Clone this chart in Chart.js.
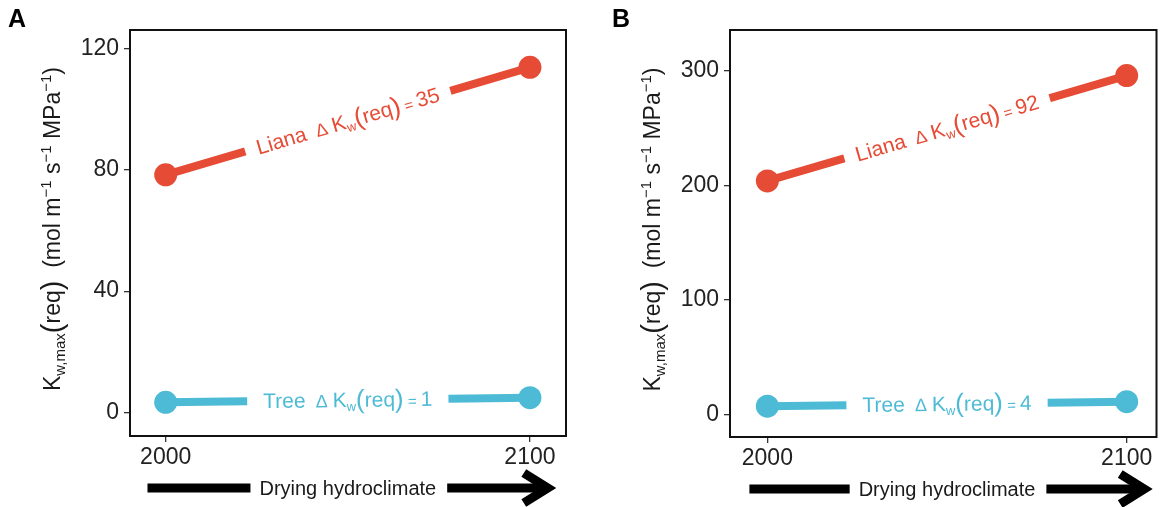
<!DOCTYPE html>
<html>
<head>
<meta charset="utf-8">
<script src="https://cdn.jsdelivr.net/npm/chart.js@4"></script>
<style>
  body { margin: 0; background: #fff; }
  #wrap { position: relative; width: 1168px; height: 507px; }
  canvas { position: absolute; top: 0; }
  #panelA { left: 0; }
  #panelB { left: 584px; }
</style>
</head>
<body>
<div id="wrap">
  <canvas id="panelA" width="584" height="507"></canvas>
  <canvas id="panelB" width="584" height="507"></canvas>
</div>
<script>
// data
var years = [2000, 2100];
var lianaA = [78.3, 113.7];
var treeA = [3.4, 4.9];
var lianaB = [204, 296];
var treeB = [7.3, 11.2];

var yTicksA = [0, 40, 80, 120];
var yTicksB = [0, 100, 200, 300];
var xTicks = [2000, 2100];

var deltaA = ["35", "1"];   // liana, tree
var deltaB = ["92", "4"];
var groups = ["Liana", "Tree"];
var arrowSpan = [1995, 2106];

var red = "#E64B35";
var blue = "#4DBBD5";
var FONT = "'Liberation Sans', Arial, sans-serif";

// draw a list of text runs (different sizes / offsets) centred on x
function drawRuns(ctx, runs, x, y) {
  var total = 0;
  runs.forEach(function (r) {
    ctx.font = r.size + "px " + FONT;
    r.w = ctx.measureText(r.t).width;
    total += r.w;
  });
  var cx = x - total / 2;
  runs.forEach(function (r) {
    ctx.font = r.size + "px " + FONT;
    ctx.fillText(r.t, cx, y + (r.dy || 0));
    cx += r.w;
  });
  return total;
}

function measureRuns(ctx, runs) {
  var total = 0;
  runs.forEach(function (r) {
    ctx.font = r.size + "px " + FONT;
    total += ctx.measureText(r.t).width;
  });
  return total;
}

var titleRuns = [
  { t: "K", size: 23 },
  { t: "w,max", size: 15, dy: 5 },
  { t: "(", size: 29, dy: 2 },
  { t: "req", size: 23 },
  { t: ")", size: 29, dy: 2 },
  { t: "  (mol m", size: 23 },
  { t: "\u22121", size: 15, dy: -9 },
  { t: " s", size: 23 },
  { t: "\u22121", size: 15, dy: -9 },
  { t: " MPa", size: 23 },
  { t: "\u22121", size: 15, dy: -9 },
  { t: ")", size: 23 }
];

function labelRuns(name, delta) {
  return [
    { t: name, size: 21 },
    { t: "  \u0394 ", size: 18 },
    { t: "K", size: 21 },
    { t: "w", size: 13, dy: 4 },
    { t: "(", size: 26, dy: 1 },
    { t: "req", size: 21 },
    { t: ")", size: 26, dy: 1 },
    { t: " = ", size: 15 },
    { t: delta, size: 21 }
  ];
}

function makePanel(id, cfg) {
  var decor = {
    id: "decor",
    afterDatasetsDraw: function (chart) {
      var ctx = chart.ctx;
      var xs = chart.scales.x, ys = chart.scales.y;
      chart.data.datasets.forEach(function (ds, i) {
        var p1 = { x: xs.getPixelForValue(ds.data[0].x), y: ys.getPixelForValue(ds.data[0].y) };
        var p2 = { x: xs.getPixelForValue(ds.data[1].x), y: ys.getPixelForValue(ds.data[1].y) };
        var mx = (p1.x + p2.x) / 2, my = (p1.y + p2.y) / 2;
        var ang = Math.atan2(p2.y - p1.y, p2.x - p1.x);
        var runs = labelRuns(groups[i], cfg.deltas[i]);
        var w = measureRuns(ctx, runs);
        ctx.save();
        ctx.translate(mx, my);
        ctx.rotate(ang);
        ctx.fillStyle = "#fff";
        ctx.fillRect(-w / 2 - cfg.gap[i], -8, w + 2 * cfg.gap[i], 16);
        ctx.fillStyle = ds.borderColor;
        ctx.textBaseline = "alphabetic";
        drawRuns(ctx, runs, 0, 7);
        ctx.restore();
      });
    },
    afterDraw: function (chart) {
      var ctx = chart.ctx;
      var a = chart.chartArea;
      var xs = chart.scales.x;
      ctx.save();
      // panel box
      ctx.strokeStyle = "#111";
      ctx.lineWidth = 2;
      ctx.strokeRect(a.left, a.top, a.right - a.left, a.bottom - a.top);

      // y title
      ctx.fillStyle = "#1a1a1a";
      ctx.translate(cfg.titleX, (a.top + a.bottom) / 2 - 4);
      ctx.rotate(-Math.PI / 2);
      drawRuns(ctx, titleRuns, 0, 8);
      ctx.restore();

      // drying arrow
      ctx.save();
      var x0 = xs.getPixelForValue(arrowSpan[0]);
      var x1 = xs.getPixelForValue(arrowSpan[1]);
      var cy = a.bottom + 52;
      var cx = (xs.getPixelForValue(xTicks[0]) + xs.getPixelForValue(xTicks[1])) / 2;
      ctx.font = "20px " + FONT;
      var tw = ctx.measureText("Drying hydroclimate").width;
      ctx.fillStyle = "#000";
      ctx.fillRect(x0, cy - 4.5, (cx - tw / 2 - 9) - x0, 9);
      ctx.fillRect(cx + tw / 2 + 11, cy - 4.5, (x1 - 4) - (cx + tw / 2 + 11), 9);
      ctx.strokeStyle = "#000";
      ctx.lineWidth = 9;
      ctx.lineJoin = "miter";
      ctx.beginPath();
      ctx.moveTo(x1 - 28, cy - 15);
      ctx.lineTo(x1 - 4, cy);
      ctx.lineTo(x1 - 28, cy + 15);
      ctx.stroke();
      ctx.fillStyle = "#1a1a1a";
      ctx.textAlign = "center";
      ctx.textBaseline = "middle";
      ctx.fillText("Drying hydroclimate", cx, cy + 1);

      // panel letter
      ctx.textAlign = "left";
      ctx.textBaseline = "alphabetic";
      ctx.fillStyle = "#000";
      ctx.font = "bold 25px " + FONT;
      ctx.fillText(cfg.letter, cfg.letterX, 27);
      ctx.restore();
    }
  };

  function series(vals, color) {
    return {
      label: "",
      data: years.map(function (yr, k) { return { x: yr, y: vals[k] }; }),
      showLine: true,
      borderColor: color,
      backgroundColor: color,
      borderWidth: 8,
      pointRadius: 11.5,
      pointBorderWidth: 0,
      pointBackgroundColor: color,
      clip: false
    };
  }

  var axisLine = { display: true, drawOnChartArea: false, drawTicks: true, tickLength: 6, color: "#333", lineWidth: 1.3 };

  return new Chart(document.getElementById(id), {
    type: "scatter",
    data: { datasets: [series(cfg.liana, red), series(cfg.tree, blue)] },
    plugins: [decor],
    options: {
      responsive: false,
      animation: false,
      layout: { padding: { left: 0, right: cfg.padRight, top: 30, bottom: 0 } },
      plugins: { legend: { display: false }, tooltip: { enabled: false } },
      scales: {
        x: {
          type: "linear",
          min: cfg.xMin, max: cfg.xMax,
          grid: axisLine,
          border: { display: false },
          afterBuildTicks: function (s) { s.ticks = xTicks.map(function (v) { return { value: v }; }); },
          afterFit: function (s) {
            s.height = 507 - cfg.bottom;
            s.paddingLeft = 0;
            s.paddingRight = 0;
          },
          ticks: { color: "#222", font: { size: 23, family: FONT }, padding: 2, maxRotation: 0,
                   callback: function (v) { return String(v); } }
        },
        y: {
          min: cfg.yMin, max: cfg.yMax,
          grid: axisLine,
          border: { display: false },
          afterBuildTicks: function (s) { s.ticks = cfg.yTicks.map(function (v) { return { value: v }; }); },
          afterFit: function (s) { s.width = cfg.left; },
          ticks: { color: "#222", font: { size: 23, family: FONT }, padding: 5,
                   callback: function (v) { return String(v); } }
        }
      }
    }
  });
}

makePanel("panelA", {
  letter: "A", letterX: 8, titleX: 52,
  liana: lianaA, tree: treeA, deltas: deltaA, yTicks: yTicksA,
  yMin: -7.7, yMax: 126, xMin: 1990.2, xMax: 2109.9,
  left: 130, padRight: 18, bottom: 436, gap: [12, 16]
});

makePanel("panelB", {
  letter: "B", letterX: 28, titleX: 68,
  liana: lianaB, tree: treeB, deltas: deltaB, yTicks: yTicksB,
  yMin: -19.6, yMax: 335.8, xMin: 1989.6, xMax: 2108.3,
  left: 146, padRight: 8, bottom: 437, gap: [12, 16]
});
</script>
</body>
</html>
